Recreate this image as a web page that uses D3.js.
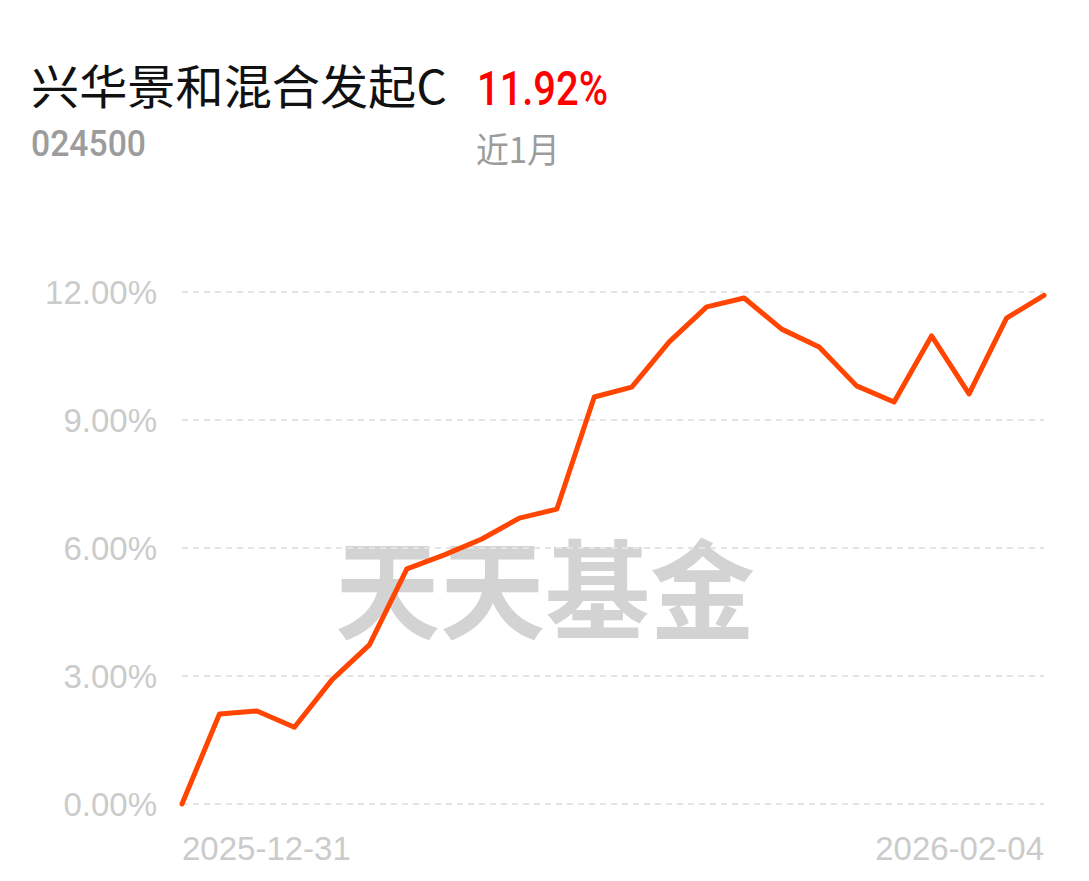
<!DOCTYPE html>
<html>
<head>
<meta charset="utf-8">
<script src="https://cdn.jsdelivr.net/npm/d3@7"></script>
<style>
  html, body { margin: 0; padding: 0; background: #fff; }
  svg { display: block; }
</style>
</head>
<body>
<div class="chart"></div>
<script>
// fund info
var fundName = "兴华景和混合发起C";
var fundCode = "024500";
var periodLabel = "近1月";
var periodReturn = "11.92%";

// trading days, 2025-12-31 .. 2026-02-04
var dates = [
  "2025-12-31", "2026-01-05", "2026-01-06", "2026-01-07", "2026-01-08", "2026-01-09",
  "2026-01-12", "2026-01-13", "2026-01-14", "2026-01-15", "2026-01-16",
  "2026-01-19", "2026-01-20", "2026-01-21", "2026-01-22", "2026-01-23",
  "2026-01-26", "2026-01-27", "2026-01-28", "2026-01-29", "2026-01-30",
  "2026-02-02", "2026-02-03", "2026-02-04"
];
// cumulative return, %
var returns = [
  0.00, 2.11, 2.18, 1.80, 2.91, 3.73,
  5.51, 5.84, 6.21, 6.70, 6.91,
  9.54, 9.77, 10.83, 11.65, 11.86,
  11.13, 10.71, 9.80, 9.42, 10.97,
  9.61, 11.39, 11.92
];
var yTicks = [0, 3, 6, 9, 12];
var xTickLabels = ["2025-12-31", "2026-02-04"];

var W = 1089, H = 881;
var plot = {left: 182, right: 1044, top: 292, bottom: 804};

var svg = d3.select(".chart").append("svg")
    .attr("width", W)
    .attr("height", H);

var x = d3.scalePoint().domain(dates).range([plot.left, plot.right]);
var y = d3.scaleLinear().domain([0, 12]).range([plot.bottom, plot.top]);

// header
svg.append("text")
    .attr("x", 31).attr("y", 104)
    .style("font-family", "'Noto Sans CJK SC', 'Noto Sans', sans-serif")
    .style("font-size", "47px")
    .attr("fill", "#111")
    .attr("textLength", 416).attr("lengthAdjust", "spacingAndGlyphs")
    .text(fundName);

svg.append("text")
    .attr("x", 477).attr("y", 105)
    .style("font-family", "Roboto, sans-serif")
    .style("font-size", "49px")
    .style("font-weight", 500)
    .attr("fill", "#ff0000")
    .attr("textLength", 131).attr("lengthAdjust", "spacingAndGlyphs")
    .text(periodReturn);

svg.append("text")
    .attr("x", 31).attr("y", 156)
    .style("font-family", "Roboto, sans-serif")
    .style("font-size", "37px")
    .style("font-weight", 500)
    .attr("fill", "#9c9c9c")
    .attr("textLength", 115).attr("lengthAdjust", "spacingAndGlyphs")
    .text(fundCode);

svg.append("text")
    .attr("x", 476).attr("y", 163)
    .style("font-family", "'Noto Sans CJK SC', sans-serif")
    .style("font-size", "35px")
    .attr("fill", "#9c9c9c")
    .attr("textLength", 84).attr("lengthAdjust", "spacingAndGlyphs")
    .text(periodLabel);

// watermark
svg.append("text")
    .attr("x", 335).attr("y", 631)
    .style("font-family", "'Noto Sans CJK SC', sans-serif")
    .style("font-size", "108px")
    .style("font-weight", 700)
    .attr("fill", "#d3d3d3")
    .attr("textLength", 420).attr("lengthAdjust", "spacingAndGlyphs")
    .text("天天基金");

// grid
svg.append("g").attr("class", "grid")
  .selectAll("line")
  .data(yTicks)
  .enter().append("line")
    .attr("x1", plot.left).attr("x2", plot.right)
    .attr("y1", function(d) { return y(d); })
    .attr("y2", function(d) { return y(d); })
    .attr("stroke", "#e4e4e4")
    .attr("stroke-width", 2)
    .attr("stroke-dasharray", "6,5");

// y labels
svg.append("g").attr("class", "y-labels")
  .selectAll("text")
  .data(yTicks)
  .enter().append("text")
    .attr("x", 157)
    .attr("y", function(d) { return y(d) + 12; })
    .attr("text-anchor", "end")
    .style("font-family", "'Liberation Sans', Arial, sans-serif")
    .style("font-size", "33px")
    .attr("fill", "#cbcbcb")
    .text(function(d) { return d.toFixed(2) + "%"; });

// x labels
svg.append("g").attr("class", "x-labels")
  .selectAll("text")
  .data(xTickLabels)
  .enter().append("text")
    .attr("x", function(d, i) { return x(d); })
    .attr("y", 860)
    .attr("text-anchor", function(d, i) { return i === 0 ? "start" : "end"; })
    .style("font-family", "'Liberation Sans', Arial, sans-serif")
    .style("font-size", "33px")
    .attr("fill", "#cbcbcb")
    .text(function(d) { return d; });

// line
var line = d3.line()
    .x(function(d, i) { return x(dates[i]); })
    .y(function(d) { return y(d); });

svg.append("path")
    .datum(returns)
    .attr("d", line)
    .attr("fill", "none")
    .attr("stroke", "#ff4500")
    .attr("stroke-width", 5)
    .attr("stroke-linejoin", "round")
    .attr("stroke-linecap", "round");
</script>
</body>
</html>
